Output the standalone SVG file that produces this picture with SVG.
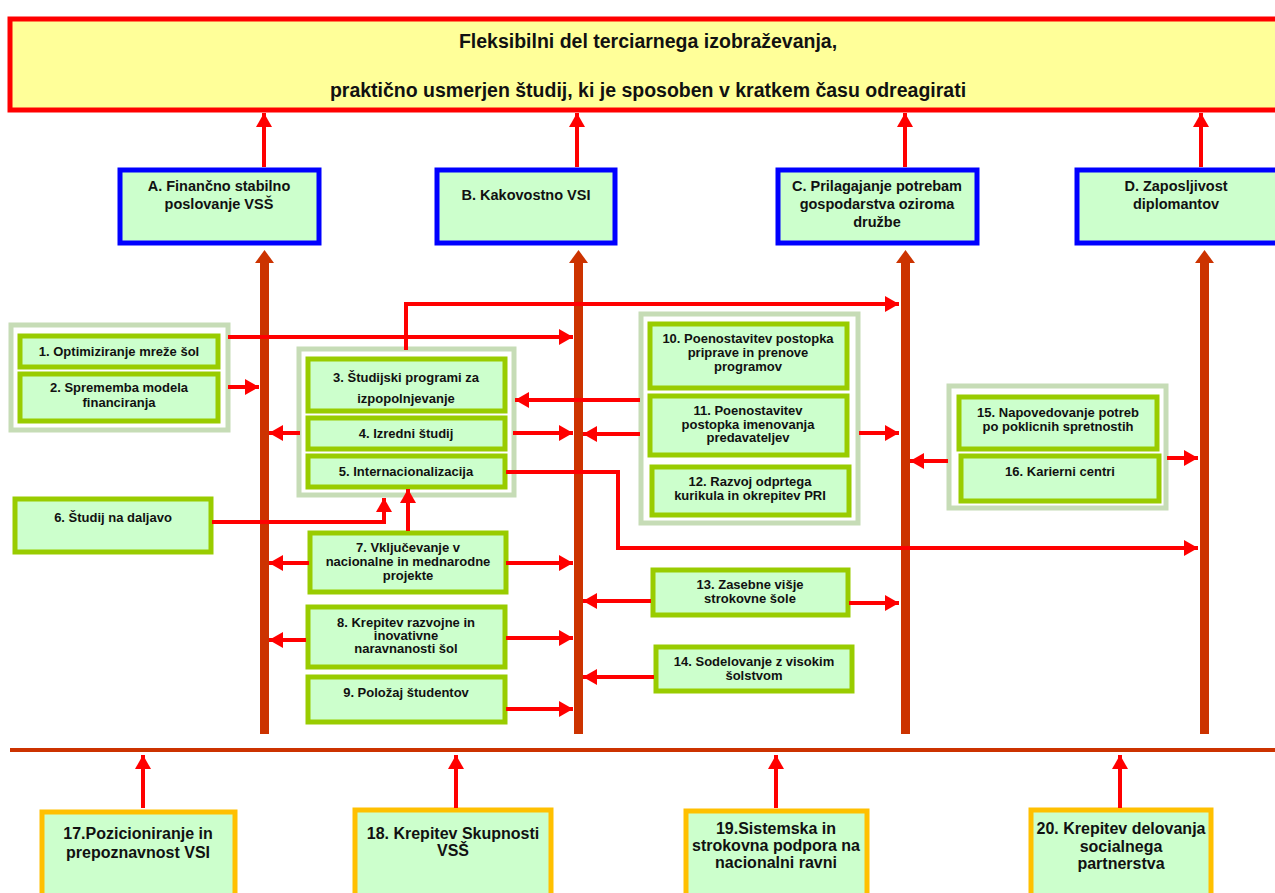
<svg xmlns="http://www.w3.org/2000/svg" width="1275" height="893" viewBox="0 0 1275 893">
<style>
text{font-family:"Liberation Sans",Arial,sans-serif;font-weight:bold;fill:#111;text-anchor:middle}
.title{font-size:19.5px}
.blue{fill:#ccffcc;stroke:#0000ff;stroke-width:5}
.grp{fill:#ffffff;stroke:#c6dcb6;stroke-width:5}
.box{fill:#ccffcc;stroke:#99cc00;stroke-width:5}
.org{fill:#ccffcc;stroke:#ffc000;stroke-width:5}
.t1{font-size:14.5px}
.t2{font-size:13px}
.t3{font-size:16px}
.arr{fill:none;stroke:#ff0000;stroke-width:4;marker-end:url(#ah)}
.bar{fill:#cc3300}
</style>
<defs>
<marker id="ah" markerUnits="userSpaceOnUse" markerWidth="16" markerHeight="16" refX="14" refY="8" orient="auto">
<path d="M0,0 L14,8 L0,16 z" fill="#ff0000"/>
</marker>
</defs>
<rect width="1275" height="893" fill="#ffffff"/>

<g id="title">
<rect x="10" y="19" width="1272" height="91" fill="#ffff99" stroke="#ff0000" stroke-width="5"/>
<text class="title" x="648" y="48">Fleksibilni del terciarnega izobraževanja,</text>
<text class="title" x="648" y="97">praktično usmerjen študij, ki je sposoben v kratkem času odreagirati</text>
</g>

<g id="A"><rect class="blue" x="120" y="170" width="199" height="73"/>
<text class="t1" x="219" y="191">A. Finančno stabilno</text><text class="t1" x="219" y="209">poslovanje VSŠ</text></g>
<g id="B"><rect class="blue" x="437" y="170" width="178" height="73"/>
<text class="t1" x="526" y="200">B. Kakovostno VSI</text></g>
<g id="C"><rect class="blue" x="778" y="170" width="199" height="73"/>
<text class="t1" x="877" y="191">C. Prilagajanje potrebam</text><text class="t1" x="877" y="209">gospodarstva oziroma</text><text class="t1" x="877" y="227">družbe</text></g>
<g id="D"><rect class="blue" x="1077" y="170" width="201" height="73"/>
<text class="t1" x="1176" y="191">D. Zaposljivost</text><text class="t1" x="1176" y="209">diplomantov</text></g>

<g id="bars">
<rect class="bar" x="260" y="262" width="9" height="472"/><path class="bar" d="M264.5,250 L255,263 L274,263 z"/>
<rect class="bar" x="574" y="262" width="9" height="472"/><path class="bar" d="M578.5,250 L569,263 L588,263 z"/>
<rect class="bar" x="901" y="262" width="9" height="472"/><path class="bar" d="M905.5,250 L896,263 L915,263 z"/>
<rect class="bar" x="1200" y="262" width="9" height="472"/><path class="bar" d="M1204.5,250 L1195,263 L1214,263 z"/>
<rect class="bar" x="10" y="748" width="1265" height="4"/>
</g>

<g id="grp12"><rect class="grp" x="11" y="325" width="217" height="105"/></g>
<g id="n1"><rect class="box" x="20" y="336" width="198" height="31"/><text class="t2" x="119" y="356">1. Optimiziranje mreže šol</text></g>
<g id="n2"><rect class="box" x="20" y="374" width="198" height="47"/><text class="t2" x="119" y="392">2. Sprememba modela</text><text class="t2" x="119" y="407">financiranja</text></g>

<g id="grp345"><rect class="grp" x="299" y="349" width="215" height="146"/></g>
<g id="n3"><rect class="box" x="308" y="359" width="197" height="52"/><text class="t2" x="406" y="382">3. Študijski programi za</text><text class="t2" x="406" y="403">izpopolnjevanje</text></g>
<g id="n4"><rect class="box" x="308" y="418" width="197" height="31"/><text class="t2" x="406" y="438">4. Izredni študij</text></g>
<g id="n5"><rect class="box" x="308" y="456" width="197" height="31"/><text class="t2" x="406" y="476">5. Internacionalizacija</text></g>

<g id="n6"><rect class="box" x="15" y="499" width="196" height="53"/><text class="t2" x="113" y="522">6. Študij na daljavo</text></g>
<g id="n7"><rect class="box" x="310" y="533" width="196" height="59"/><text class="t2" x="408" y="552">7. Vključevanje v</text><text class="t2" x="408" y="566">nacionalne in mednarodne</text><text class="t2" x="408" y="580">projekte</text></g>
<g id="n8"><rect class="box" x="308" y="607" width="197" height="60"/><text class="t2" x="406" y="627">8. Krepitev razvojne in</text><text class="t2" x="406" y="640">inovativne</text><text class="t2" x="406" y="653">naravnanosti  šol</text></g>
<g id="n9"><rect class="box" x="308" y="677" width="197" height="45"/><text class="t2" x="406" y="697">9.  Položaj študentov</text></g>

<g id="grp1012"><rect class="grp" x="641" y="314" width="217" height="209"/></g>
<g id="n10"><rect class="box" x="650" y="324" width="197" height="64"/><text class="t2" x="748" y="343">10. Poenostavitev postopka</text><text class="t2" x="748" y="357">priprave in prenove</text><text class="t2" x="748" y="371">programov</text></g>
<g id="n11"><rect class="box" x="650" y="396" width="197" height="59"/><text class="t2" x="748" y="415">11. Poenostavitev</text><text class="t2" x="748" y="429">postopka imenovanja</text><text class="t2" x="748" y="442">predavateljev</text></g>
<g id="n12"><rect class="box" x="652" y="467" width="197" height="48"/><text class="t2" x="750" y="486">12. Razvoj odprtega</text><text class="t2" x="750" y="500">kurikula in okrepitev PRI</text></g>

<g id="n13"><rect class="box" x="653" y="570" width="195" height="45"/><text class="t2" x="750" y="589">13. Zasebne višje</text><text class="t2" x="750" y="603">strokovne šole</text></g>
<g id="n14"><rect class="box" x="656" y="647" width="196" height="44"/><text class="t2" x="754" y="666">14. Sodelovanje z visokim</text><text class="t2" x="754" y="680">šolstvom</text></g>

<g id="grp1516"><rect class="grp" x="949" y="386" width="217" height="122"/></g>
<g id="n15"><rect class="box" x="959" y="397" width="198" height="52"/><text class="t2" x="1058" y="417">15. Napovedovanje potreb</text><text class="t2" x="1058" y="431">po poklicnih spretnostih</text></g>
<g id="n16"><rect class="box" x="961" y="456" width="198" height="45"/><text class="t2" x="1060" y="476">16. Karierni centri</text></g>

<g id="n17"><rect class="org" x="42" y="812" width="193" height="90"/><text class="t3" x="138" y="839">17.Pozicioniranje in</text><text class="t3" x="138" y="858">prepoznavnost VSI</text></g>
<g id="n18"><rect class="org" x="355" y="810" width="196" height="90"/><text class="t3" x="453" y="839">18. Krepitev Skupnosti</text><text class="t3" x="453" y="856">VSŠ</text></g>
<g id="n19"><rect class="org" x="686" y="811" width="181" height="90"/><text class="t3" x="776" y="834">19.Sistemska in</text><text class="t3" x="776" y="851">strokovna podpora na</text><text class="t3" x="776" y="868">nacionalni ravni</text></g>
<g id="n20"><rect class="org" x="1031" y="810" width="180" height="90"/><text class="t3" x="1121" y="834">20. Krepitev delovanja</text><text class="t3" x="1121" y="852">socialnega</text><text class="t3" x="1121" y="869">partnerstva</text></g>

<g id="connectors">
<path class="arr" d="M264,167 L264,113"/>
<path class="arr" d="M577,167 L577,113"/>
<path class="arr" d="M905,167 L905,113"/>
<path class="arr" d="M1201,167 L1201,113"/>
<path class="arr" d="M228,337 L573,337"/>
<path class="arr" d="M228,387 L259,387"/>
<path class="arr" d="M406,350 L406,304 L899,304"/>
<path class="arr" d="M300,433 L269,433"/>
<path class="arr" d="M513,433 L573,433"/>
<path class="arr" d="M640,400 L515,400"/>
<path class="arr" d="M640,434 L583,434"/>
<path class="arr" d="M859,433 L899,433"/>
<path class="arr" d="M506,472 L618,472 L618,548 L1198,548"/>
<path class="arr" d="M212,522 L384,522 L384,498"/>
<path class="arr" d="M408,531 L408,489"/>
<path class="arr" d="M309,563 L269,563"/>
<path class="arr" d="M506,563 L573,563"/>
<path class="arr" d="M306,640 L269,640"/>
<path class="arr" d="M506,638 L573,638"/>
<path class="arr" d="M506,709 L573,709"/>
<path class="arr" d="M651,601 L583,601"/>
<path class="arr" d="M849,603 L899,603"/>
<path class="arr" d="M654,677 L583,677"/>
<path class="arr" d="M948,461 L910,461"/>
<path class="arr" d="M1167,458 L1198,458"/>
<path class="arr" d="M143,808 L143,755"/>
<path class="arr" d="M456,808 L456,755"/>
<path class="arr" d="M776,808 L776,755"/>
<path class="arr" d="M1120,808 L1120,755"/>
</g>
</svg>
